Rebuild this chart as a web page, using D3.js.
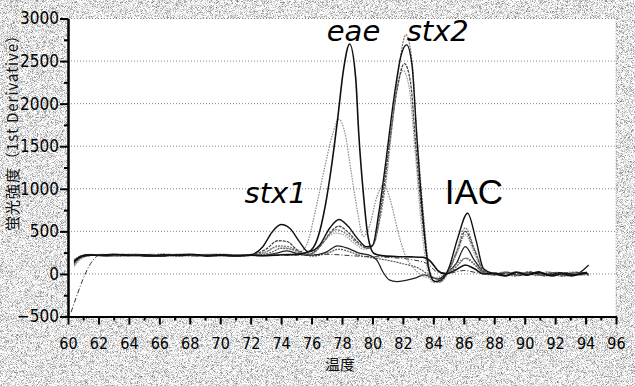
<!DOCTYPE html>
<html><head><meta charset="utf-8">
<script src="https://cdn.jsdelivr.net/npm/d3@7"></script>
<style>
html,body{margin:0;padding:0;background:#e4e4e4;}
svg{display:block;}
</style></head>
<body>
<svg id="chart" width="635" height="386"></svg>
<script>
// ---- data (temperature °C, 1st derivative) ----
const xTicksMajor = [60,62,64,66,68,70,72,74,76,78,80,82,84,86,88,90,92,94,96];
const yTicksMajor = [-500,0,500,1000,1500,2000,2500,3000];
const yTitle = "蛍光強度（1st Derivative）";
const xTitle = "温度";

const eaeStrong = [[60.4,140],[60.8,200],[61.3,225],[62,220],[63,230],[64,215],[65,225],[66,210],[67,220],[68,230],[69,215],[70,225],[71,210],[72,220],[73,215],[74,225],[75,230],[75.8,260],[76.4,420],[76.9,800],[77.3,1250],[77.7,1800],[78.1,2400],[78.5,2700],[78.9,2300],[79.1,1650],[79.4,950],[79.7,450],[80.1,240],[80.6,215],[81.5,205],[82.5,200],[83.3,195],[83.8,150],[84.3,40],[84.8,0],[85.5,50],[86.1,105],[86.7,60],[87.3,0],[88,10],[88.8,-20],[89.5,20],[90.2,-10],[91,15],[91.8,-25],[92.6,10],[93.4,-10],[94.1,20]];
const eaeMid = [[60.4,170],[60.9,210],[61.5,230],[62.5,215],[63.5,225],[64.5,210],[65.5,230],[66.5,215],[67.5,225],[68.5,210],[69.5,230],[70.5,215],[71.5,225],[72.5,210],[73.5,235],[74.5,220],[75.2,250],[75.7,350],[76.2,700],[76.8,1200],[77.4,1650],[77.8,1815],[78.2,1650],[78.6,1200],[79,750],[79.4,440],[79.8,560],[80.3,910],[80.75,1050],[81.2,850],[81.7,480],[82.2,200],[82.7,70],[83.3,-20],[84,-50],[84.6,-20],[85.2,50],[85.8,160],[86.2,185],[86.8,100],[87.3,10],[88,-5],[88.7,25],[89.4,-20],[90.1,15],[90.9,-15],[91.7,20],[92.4,-30],[93.2,15],[94,-5]];
const stx2Top = [[60.4,100],[60.8,180],[61.4,215],[62.2,230],[63.2,210],[64.2,225],[65.2,215],[66.2,235],[67.2,210],[68.2,220],[69.2,230],[70.2,210],[71.2,225],[72.2,230],[73,260],[73.8,330],[74.5,320],[75.3,250],[76,240],[76.8,380],[77.6,520],[78.3,470],[79,360],[79.7,300],[80.1,360],[80.5,650],[80.9,1100],[81.3,1750],[81.8,2500],[82.2,2810],[82.6,2500],[82.9,1700],[83.3,800],[83.7,100],[84,-80],[84.4,-100],[84.9,-10],[85.5,250],[86.1,540],[86.7,300],[87.3,50],[88,-10],[88.6,20],[89.3,-25],[90,10],[90.8,-20],[91.5,25],[92.2,-10],[93,20],[93.8,-15],[94.2,10]];
const stx2Black = [[60.4,150],[60.9,205],[61.5,220],[62.3,215],[63.3,230],[64.3,220],[65.3,210],[66.3,225],[67.3,215],[68.3,230],[69.3,210],[70.3,220],[71.3,215],[72,225],[72.8,320],[73.4,490],[74,580],[74.6,530],[75.2,380],[75.8,260],[76.5,330],[77.2,540],[77.8,640],[78.4,560],[79,420],[79.6,320],[80,330],[80.4,700],[80.9,1350],[81.4,2050],[81.9,2580],[82.25,2690],[82.6,2450],[82.9,1650],[83.3,700],[83.7,60],[84.1,-90],[84.5,-70],[85,60],[85.6,420],[86.25,713],[86.8,400],[87.3,60],[88,0],[88.7,-25],[89.4,20],[90.1,-15],[90.9,25],[91.6,-20],[92.3,15],[93.1,-25],[93.9,15],[94.2,-5]];
const stx2Gray = [[60.4,120],[60.8,190],[61.3,215],[62.1,225],[63.1,215],[64.1,230],[65.1,220],[66.1,210],[67.1,230],[68.1,215],[69.1,225],[70.1,230],[71.1,210],[72,220],[73,290],[73.8,390],[74.4,380],[75,290],[75.8,230],[76.6,330],[77.3,500],[77.8,560],[78.4,490],[79,380],[79.7,300],[80.1,360],[80.6,820],[81.1,1500],[81.6,2150],[82.1,2470],[82.5,2250],[82.85,1500],[83.3,600],[83.7,60],[84,-80],[84.4,-90],[85,40],[85.6,290],[86.1,500],[86.7,280],[87.3,40],[88,-5],[88.8,20],[89.5,-15],[90.3,25],[91,-10],[91.8,15],[92.5,-25],[93.3,20],[94,0]];
const stx2Light = [[60.4,90],[60.9,180],[61.6,220],[62.4,210],[63.4,225],[64.4,215],[65.4,230],[66.4,220],[67.4,210],[68.4,225],[69.4,215],[70.4,230],[71.4,220],[72,215],[73,255],[73.8,320],[74.5,300],[75.3,240],[76,230],[76.8,380],[77.5,480],[78.1,460],[78.8,360],[79.5,290],[80,340],[80.5,760],[81,1400],[81.5,2050],[82,2390],[82.4,2200],[82.8,1450],[83.2,600],[83.6,60],[84,-100],[84.5,-80],[85,30],[85.6,260],[86.1,460],[86.7,240],[87.3,30],[88,0],[88.7,-20],[89.4,25],[90.2,-10],[91,20],[91.7,-20],[92.4,10],[93.2,-15],[94,25]];
const dropLow = [[60.4,160],[60.9,215],[61.6,225],[62.6,210],[63.6,230],[64.6,220],[65.6,210],[66.6,230],[67.6,220],[68.6,215],[69.6,225],[70.6,210],[71.6,225],[72.6,215],[73.6,240],[74.4,270],[75.2,230],[76,220],[77,260],[77.7,330],[78.4,300],[79.2,240],[79.8,220],[80.3,160],[80.7,20],[81.1,-70],[81.6,-90],[82.2,-75],[82.8,-50],[83.4,-10],[83.9,-40],[84.3,-60],[84.8,0],[85.5,120],[86.1,320],[86.7,160],[87.4,10],[88,-10],[88.8,15],[89.6,-20],[90.4,20],[91.2,-15],[92,10],[92.8,-20],[93.6,15],[94.2,105]];
const flatLow = [[60.4,130],[60.9,200],[61.5,225],[62.5,220],[63.5,210],[64.5,230],[65.5,220],[66.5,215],[67.5,230],[68.5,220],[69.5,210],[70.5,225],[71.5,220],[72.5,225],[73.3,250],[74,300],[74.7,290],[75.4,240],[76,210],[77,240],[77.8,290],[78.5,260],[79.3,210],[80,190],[81,160],[82,120],[83,70],[83.8,-20],[84.3,-60],[85,10],[85.6,100],[86.1,184],[86.7,110],[87.4,0],[88,-10],[88.9,20],[89.7,-15],[90.5,10],[91.3,-25],[92.1,20],[92.9,-10],[93.7,10],[94.2,-20]];
const dashDot = [[60.2,-450],[62.1,220],[63,225],[65,215],[67,220],[69,210],[71,225],[73,215],[75,220],[77,230],[79,210],[81,195],[82.5,170],[83.6,120],[84.3,20],[85,10],[86,40],[87,10],[88,0],[90,10],[92,-10],[94,0]];

const styles = [
  {d: dashDot,   c:"#333", w:1.0, dash:"5,2,1,2"},
  {d: flatLow,   c:"#555", w:1.2, dash:"2,1"},
  {d: dropLow,   c:"#222", w:1.3, dash:null},
  {d: stx2Light, c:"#999", w:1.2, dash:"1.5,1"},
  {d: eaeMid,    c:"#888", w:1.2, dash:"1.5,1.2"},
  {d: stx2Gray,  c:"#444", w:1.3, dash:"3,1"},
  {d: stx2Top,   c:"#777", w:1.2, dash:"2,1"},
  {d: stx2Black, c:"#111", w:1.4, dash:null},
  {d: eaeStrong, c:"#111", w:1.6, dash:null}
];

const labels = [
  {t:"stx1", x:71.6, y:834, italic:true},
  {t:"eae",  x:77.0, y:2730, italic:true},
  {t:"stx2", x:82.25, y:2730, italic:true},
  {t:"IAC",  x:84.75, y:820, italic:false}
];

// ---- drawing ----
const svg = d3.select("#chart");
const W = 635, H = 386;
const x = d3.scaleLinear().domain([60,96]).range([68,616]);
const y = d3.scaleLinear().domain([-500,3000]).range([316.5,18.5]);

const defs = svg.append("defs");
const f = defs.append("filter").attr("id","grain").attr("filterUnits","userSpaceOnUse")
  .attr("x",0).attr("y",0).attr("width",W).attr("height",H)
  .attr("color-interpolation-filters","sRGB");
f.append("feTurbulence").attr("type","fractalNoise").attr("baseFrequency",1.8).attr("numOctaves",1).attr("seed",7);
f.append("feColorMatrix").attr("type","matrix")
  .attr("values","1.5 0 0 0 0.15  1.5 0 0 0 0.15  1.5 0 0 0 0.15  0 0 0 0 1");

svg.append("rect").attr("width",W).attr("height",H).attr("filter","url(#grain)");

svg.append("rect").attr("x",x(60)).attr("y",y(3000))
  .attr("width",x(96)-x(60)).attr("height",y(-500)-y(3000)).attr("fill","#fff");

// grid
svg.append("g").selectAll("line").data(yTicksMajor.filter(v=>v>-500)).join("line")
  .attr("x1",x(60)).attr("x2",x(96)).attr("y1",d=>y(d)).attr("y2",d=>y(d))
  .attr("stroke","#888").attr("stroke-width",1).attr("stroke-dasharray","1,2");
svg.append("line").attr("x1",x(96)).attr("x2",x(96)).attr("y1",y(3000)).attr("y2",y(-500))
  .attr("stroke","#999").attr("stroke-dasharray","1,2");

// curves
const line = d3.line().x(d=>x(d[0])).y(d=>y(d[1])).curve(d3.curveMonotoneX);
const cg = svg.append("g").attr("fill","none");
styles.forEach(s=>{
  cg.append("path").attr("d",line(s.d)).attr("stroke",s.c).attr("stroke-width",s.w)
    .attr("stroke-dasharray",s.dash).attr("stroke-linejoin","round");
});

// axes
const tickFont = "'Liberation Sans Narrow','DejaVu Sans Condensed','Arial Narrow',sans-serif";
const xMinor = d3.range(61,96,2);
const yMinor = d3.range(-250,3000,500);

const gx = svg.append("g").attr("transform",`translate(0,${y(-500)})`)
  .call(d3.axisBottom(x).tickValues(xTicksMajor).tickSize(8).tickSizeOuter(0).tickPadding(13).tickFormat(d3.format("d")));
svg.append("g").attr("transform",`translate(0,${y(-500)})`)
  .call(d3.axisBottom(x).tickValues(xMinor).tickSize(4).tickSizeOuter(0).tickFormat(""));
const gy = svg.append("g").attr("transform",`translate(${x(60)},0)`)
  .call(d3.axisLeft(y).tickValues(yTicksMajor).tickSize(8).tickSizeOuter(0).tickPadding(1).tickFormat(d3.format("d")));
svg.append("g").attr("transform",`translate(${x(60)},0)`)
  .call(d3.axisLeft(y).tickValues(yMinor).tickSize(4).tickSizeOuter(0).tickFormat(""));

svg.selectAll(".domain").attr("stroke","#000").attr("stroke-width",2);
svg.selectAll(".tick line").attr("stroke","#000").attr("stroke-width",2);
gx.selectAll("text").attr("font-family",tickFont).attr("font-size",16).attr("fill","#000");
gy.selectAll("text").attr("font-family",tickFont).attr("font-size",17).attr("fill","#000");

// titles
svg.append("text").attr("x",340).attr("y",370).attr("text-anchor","middle")
  .attr("font-family","'Noto Sans CJK JP',sans-serif").attr("font-size",15).attr("fill","#111").text(xTitle);
svg.append("text").attr("transform","translate(11,129) rotate(-90)").attr("text-anchor","middle")
  .attr("dominant-baseline","central")
  .attr("font-family","'Noto Sans CJK JP',sans-serif").attr("font-size",15).attr("letter-spacing",1)
  .attr("fill","#111").text(yTitle);

// annotations
svg.append("g").selectAll("text").data(labels).join("text")
  .attr("x",d=>x(d.x)).attr("y",d=>y(d.y))
  .attr("font-family",d=>d.italic?"'DejaVu Sans',sans-serif":"'Liberation Sans',Arial,sans-serif")
  .attr("font-style",d=>d.italic?"italic":"normal")
  .attr("font-size",d=>d.italic?29:35)
  .attr("fill","#000").text(d=>d.t);
</script>
</body></html>
